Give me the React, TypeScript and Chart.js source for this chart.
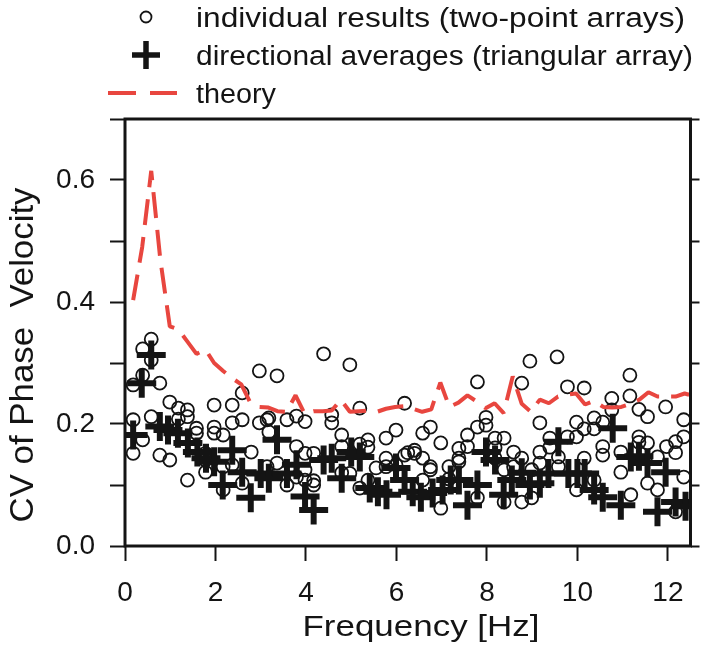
import React, { useEffect, useRef } from "react";
import { Chart, registerables } from "chart.js";

Chart.register(...registerables);

// ---------- data ----------
const circleFreq = [
  0.58, 0.39, 0.58, 0.39, 0.18, 0.77, 0.18, 0.18, 0.39, 0.58, 0.77, 0.99, 0.99, 1.18, 1.38, 1.38, 1.18, 1.38,
  1.58, 1.58, 1.78, 1.78, 1.78, 1.97, 1.97, 1.97, 2.17, 2.17, 2.17, 2.37, 2.37, 2.37, 2.59, 2.59, 2.59, 2.79,
  2.97, 2.97, 3.14, 3.14, 3.18, 3.18, 3.36, 3.36, 3.58, 3.58, 3.79, 3.79, 3.79, 3.98, 3.98, 3.98, 3.98, 4.17,
  4.17, 4.17, 4.39, 4.57, 4.57, 4.79, 4.79, 4.79, 4.97, 4.97, 5.19, 5.19, 5.19, 5.37, 5.37, 5.37, 5.55, 5.77,
  5.77, 5.77, 5.99, 5.99, 6.18, 6.18, 6.25, 6.4, 6.4, 6.58, 6.58, 6.58, 6.75, 6.75, 6.75, 6.98, 6.98, 7.16,
  7.16, 7.38, 7.38, 7.38, 7.57, 7.57, 7.79, 7.79, 7.79, 7.98, 7.98, 8.18, 8.18, 8.18, 8.38, 8.38, 8.38, 8.59,
  8.59, 8.77, 8.77, 8.77, 8.95, 8.99, 8.99, 9.17, 9.17, 9.17, 9.39, 9.39, 9.55, 9.58, 9.58, 9.78, 9.78, 9.98,
  9.98, 9.98, 10.15, 10.15, 10.15, 10.37, 10.37, 10.37, 10.56, 10.56, 10.56, 10.76, 10.76, 10.96, 10.96, 11.16,
  11.16, 11.18, 11.36, 11.36, 11.36, 11.55, 11.55, 11.55, 11.77, 11.77, 11.95, 11.97, 12.17, 12.17, 12.17, 12.35,
  12.35, 12.35,
];
const circleCV = [
  0.339, 0.323, 0.305, 0.28, 0.264, 0.267, 0.207, 0.152, 0.174, 0.212, 0.149, 0.141, 0.236, 0.226, 0.223, 0.212, 0.208, 0.108,
  0.193, 0.185, 0.152, 0.141, 0.121, 0.231, 0.195, 0.185, 0.182, 0.13, 0.092, 0.231, 0.202, 0.133, 0.207, 0.251, 0.103, 0.154,
  0.287, 0.202, 0.207, 0.13, 0.21, 0.187, 0.279, 0.136, 0.207, 0.1, 0.213, 0.163, 0.113, 0.204, 0.152, 0.125, 0.108, 0.152,
  0.107, 0.1, 0.315, 0.215, 0.202, 0.182, 0.163, 0.12, 0.297, 0.119, 0.226, 0.167, 0.095, 0.174, 0.162, 0.108, 0.128, 0.177,
  0.144, 0.13, 0.19, 0.133, 0.234, 0.149, 0.153, 0.157, 0.152, 0.144, 0.185, 0.108, 0.195, 0.13, 0.125, 0.169, 0.062, 0.13,
  0.11, 0.16, 0.144, 0.138, 0.182, 0.163, 0.269, 0.195, 0.079, 0.211, 0.198, 0.177, 0.161, 0.144, 0.177, 0.125, 0.072, 0.154,
  0.13, 0.267, 0.144, 0.072, 0.303, 0.125, 0.079, 0.202, 0.154, 0.136, 0.177, 0.162, 0.31, 0.146, 0.13, 0.261, 0.179, 0.203,
  0.179, 0.092, 0.259, 0.192, 0.144, 0.21, 0.192, 0.108, 0.203, 0.163, 0.149, 0.242, 0.223, 0.154, 0.121, 0.28,
  0.246, 0.084, 0.224, 0.179, 0.17, 0.212, 0.169, 0.103, 0.146, 0.092, 0.228, 0.163, 0.171, 0.153, 0.056, 0.207,
  0.179, 0.113,
];

const plusFreq = [
  0.18, 0.37, 0.58, 0.77, 0.95, 1.17, 1.39, 1.6, 1.79, 1.97, 2.16, 2.37, 2.59, 2.78, 3.0, 3.18, 3.36, 3.58, 3.79, 3.98,
  4.17, 4.39, 4.57, 4.79, 5.0, 5.19, 5.41, 5.59, 5.78, 5.99, 6.18, 6.36, 6.54, 6.8, 7.02, 7.2, 7.38, 7.57, 7.79, 7.98,
  8.18, 8.37, 8.55, 8.77, 8.95, 9.17, 9.36, 9.58, 9.8, 10.0, 10.16, 10.37, 10.56, 10.78, 10.96, 11.18, 11.36, 11.55,
  11.77, 11.95, 12.17, 12.39,
];
const plusCV = [
  0.182, 0.267, 0.313, 0.196, 0.19, 0.185, 0.169, 0.154, 0.144, 0.138, 0.1, 0.157, 0.121, 0.079, 0.119, 0.111, 0.174, 0.119, 0.133, 0.081,
  0.059, 0.141, 0.144, 0.111, 0.154, 0.146, 0.095, 0.089, 0.084, 0.128, 0.108, 0.089, 0.08, 0.087, 0.092, 0.108, 0.108, 0.067, 0.1, 0.154,
  0.141, 0.084, 0.108, 0.12, 0.1, 0.103, 0.119, 0.171, 0.119, 0.119, 0.119, 0.092, 0.08, 0.193, 0.067, 0.146, 0.147, 0.136,
  0.056, 0.121, 0.072, 0.065,
];

const theoryFreq = [
  0.18, 0.38, 0.58, 0.78, 0.99, 1.18, 1.38, 1.58, 1.78, 1.97, 2.17, 2.37, 2.57, 2.77, 2.97, 3.17, 3.37, 3.57, 3.77, 3.97,
  4.17, 4.37, 4.57, 4.77, 4.97, 5.17, 5.37, 5.57, 5.77, 5.97, 6.17, 6.37, 6.57, 6.77, 6.97, 7.17, 7.37, 7.57, 7.77, 7.97,
  8.17, 8.37, 8.57, 8.77, 8.97, 9.17, 9.37, 9.57, 9.77, 9.97, 10.17, 10.37, 10.57, 10.77, 10.97, 11.17, 11.37, 11.57,
  11.77, 11.97, 12.17, 12.37, 12.47,
];
const theoryCV = [
  0.403, 0.49, 0.615, 0.47, 0.36, 0.355, 0.335, 0.315, 0.322, 0.3, 0.287, 0.275, 0.265, 0.235, 0.228, 0.227, 0.221, 0.22, 0.247, 0.217,
  0.221, 0.221, 0.222, 0.24, 0.22, 0.221, 0.222, 0.22, 0.225, 0.228, 0.229, 0.225, 0.22, 0.224, 0.268, 0.228, 0.235, 0.247, 0.237, 0.226,
  0.234, 0.218, 0.278, 0.233, 0.22, 0.24, 0.234, 0.245, 0.248, 0.25, 0.232, 0.238, 0.228, 0.227, 0.228, 0.233, 0.24, 0.252,
  0.245, 0.245, 0.245, 0.25, 0.248,
];

const xTickValues = [0, 2, 4, 6, 8, 10, 12];
const yTickValues = [0, 0.1, 0.2, 0.3, 0.4, 0.5, 0.6, 0.7];
const yLabelledTicks = [0, 0.2, 0.4, 0.6];
const legendLabels = [
  "individual results (two-point arrays)",
  "directional averages (triangular array)",
  "theory",
];
const xTitle = "Frequency [Hz]";
const yTitle = "CV of Phase  Velocity";

// ---------- styles ----------
const FONT = '"Liberation Sans", Arial, Helvetica, sans-serif';
const INK = "#141414";
const RED = "#e8463f";

// draw text scaled along its direction so that it spans a given width
function fitText(ctx: CanvasRenderingContext2D, text: string, x: number, y: number, width: number, align: "left" | "center") {
  const w = ctx.measureText(text).width;
  const s = width / w;
  ctx.save();
  ctx.translate(x, y);
  ctx.scale(s, 1);
  ctx.textAlign = align;
  ctx.fillText(text, 0, 0);
  ctx.restore();
}

const framePlugin = {
  id: "frameAndTexts",
  afterDatasetsDraw(chart: any) {
    const { ctx, chartArea } = chart;
    ctx.save();
    ctx.strokeStyle = INK;
    ctx.lineWidth = 3;
    ctx.strokeRect(chartArea.left, chartArea.top, chartArea.right - chartArea.left, chartArea.bottom - chartArea.top);
    ctx.restore();
  },
  afterDraw(chart: any) {
    const { ctx } = chart;
    ctx.save();
    // axis titles
    ctx.fillStyle = INK;
    ctx.textBaseline = "alphabetic";
    ctx.font = `29px ${FONT}`;
    fitText(ctx, xTitle, 421, 636, 237, "center");
    ctx.save();
    ctx.translate(33, 355);
    ctx.rotate(-Math.PI / 2);
    ctx.font = `34px ${FONT}`;
    fitText(ctx, yTitle, 0, 0, 335, "center");
    ctx.restore();

    // legend
    const rows = [17, 55, 93];
    const mx = 146;
    ctx.strokeStyle = INK;
    ctx.lineWidth = 1.8;
    ctx.beginPath();
    ctx.arc(mx, rows[0], 5.5, 0, Math.PI * 2);
    ctx.stroke();

    ctx.lineWidth = 5.5;
    ctx.beginPath();
    ctx.moveTo(mx - 14, rows[1]);
    ctx.lineTo(mx + 14, rows[1]);
    ctx.moveTo(mx, rows[1] - 14);
    ctx.lineTo(mx, rows[1] + 14);
    ctx.stroke();

    ctx.strokeStyle = RED;
    ctx.lineWidth = 4;
    ctx.setLineDash([28, 14]);
    ctx.beginPath();
    ctx.moveTo(108, rows[2]);
    ctx.lineTo(177, rows[2]);
    ctx.stroke();
    ctx.setLineDash([]);

    ctx.fillStyle = INK;
    ctx.font = `27px ${FONT}`;
    ctx.textBaseline = "alphabetic";
    const widths = [489, 497, 80];
    legendLabels.forEach((t, i) => fitText(ctx, t, 196, rows[i] + 10, widths[i], "left"));
    ctx.restore();
  },
};

export default function App() {
  const ref = useRef<HTMLCanvasElement | null>(null);

  useEffect(() => {
    document.body.style.margin = "0";
    const canvas = ref.current;
    if (!canvas) return;

    const tickGrid = {
      drawOnChartArea: false,
      drawTicks: true,
      tickLength: 15,
      tickWidth: 2,
      tickColor: INK,
    };

    const chart = new Chart(canvas, {
      type: "scatter",
      data: {
        datasets: [
          {
            type: "line",
            label: legendLabels[2],
            data: theoryFreq.map((x, i) => ({ x, y: theoryCV[i] })),
            borderColor: RED,
            borderWidth: 4,
            borderDash: [26, 12],
            borderJoinStyle: "bevel",
            pointRadius: 0,
            fill: false,
            tension: 0,
            clip: 0,
            order: 1,
          },
          {
            label: legendLabels[1],
            data: plusFreq.map((x, i) => ({ x, y: plusCV[i] })),
            pointStyle: "cross",
            pointRadius: 14.5,
            borderWidth: 6,
            borderColor: INK,
            backgroundColor: INK,
            clip: 0,
            order: 2,
          },
          {
            label: legendLabels[0],
            data: circleFreq.map((x, i) => ({ x, y: circleCV[i] })),
            pointStyle: "circle",
            pointRadius: 6.5,
            borderWidth: 1.8,
            borderColor: INK,
            backgroundColor: "rgba(0,0,0,0)",
            clip: 0,
            order: 3,
          },
        ],
      } as any,
      options: {
        responsive: false,
        maintainAspectRatio: false,
        animation: false,
        events: [],
        layout: { padding: { top: 119, left: 0, right: 0, bottom: 0 } },
        plugins: { legend: { display: false }, tooltip: { enabled: false } },
        scales: {
          x: {
            type: "linear",
            min: 0,
            max: 12.5,
            position: "bottom",
            afterBuildTicks: (ax: any) => {
              ax.ticks = xTickValues.map((v) => ({ value: v }));
            },
            ticks: {
              font: { family: FONT, size: 28 },
              color: INK,
              padding: 15,
              maxRotation: 0,
              autoSkip: false,
              callback: (v: any) => String(v),
            },
            grid: tickGrid,
            border: { display: false },
            afterFit: (s: any) => {
              s.height = 99;
            },
          },
          y: {
            type: "linear",
            min: 0,
            max: 0.7,
            position: "left",
            afterBuildTicks: (ax: any) => {
              ax.ticks = yTickValues.map((v) => ({ value: v }));
            },
            ticks: {
              font: { family: FONT, size: 28 },
              color: INK,
              padding: 15,
              autoSkip: false,
              callback: (v: any) => (yLabelledTicks.some((t) => Math.abs(t - v) < 1e-6) ? Number(v).toFixed(1) : ""),
            },
            grid: tickGrid,
            border: { display: false },
            afterFit: (s: any) => {
              s.width = 125;
            },
          },
          y2: {
            type: "linear",
            min: 0,
            max: 0.7,
            position: "right",
            afterBuildTicks: (ax: any) => {
              ax.ticks = yTickValues.map((v) => ({ value: v }));
            },
            ticks: { display: true, callback: () => "", font: { size: 1 } },
            grid: { ...tickGrid, tickLength: 9 },
            border: { display: false },
            afterFit: (s: any) => {
              s.width = 17;
            },
          },
        },
      } as any,
      plugins: [framePlugin],
    });

    return () => chart.destroy();
  }, []);

  return <canvas ref={ref} width={711} height={645} style={{ display: "block", width: 711, height: 645 }} />;
}
